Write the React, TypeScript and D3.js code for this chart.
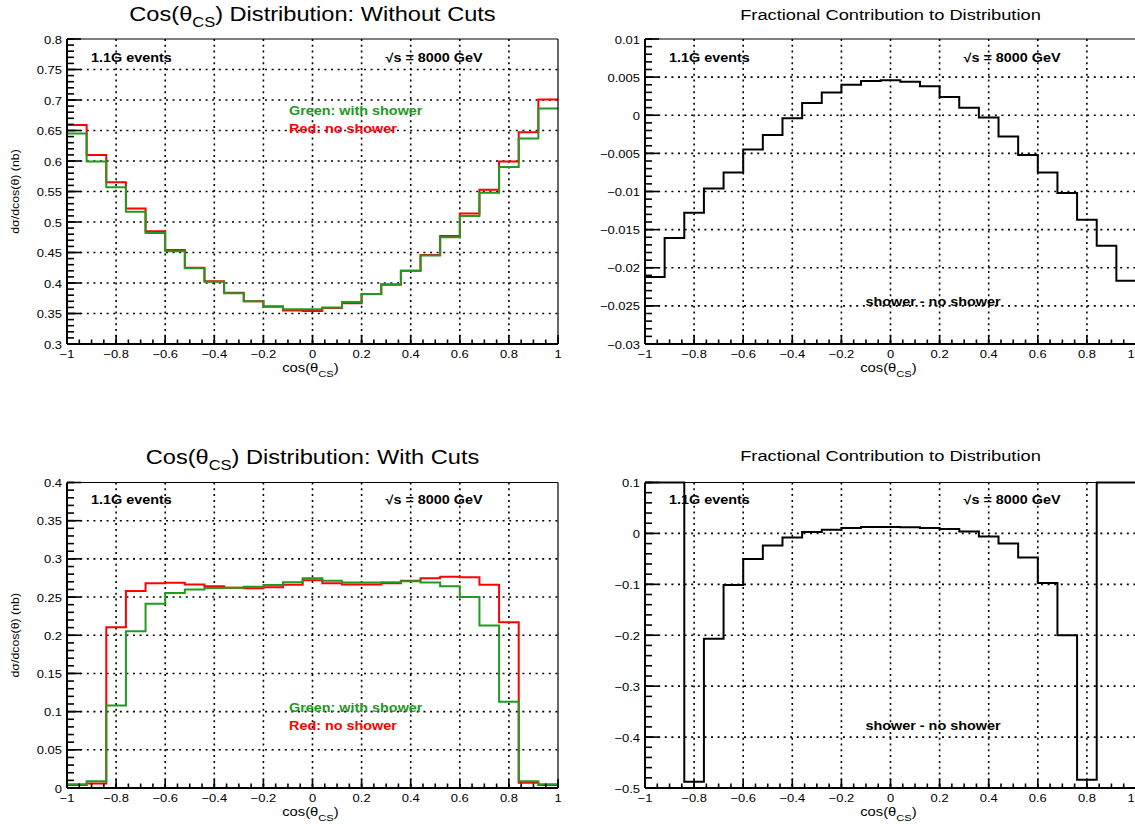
import React from "react";
import * as d3 from "d3";

// 25 bins over cos(theta_CS)
const binEdges = [-1, -0.92, -0.84, -0.76, -0.68, -0.6, -0.52, -0.44, -0.36, -0.28, -0.2, -0.12, -0.04,
  0.04, 0.12, 0.2, 0.28, 0.36, 0.44, 0.52, 0.6, 0.68, 0.76, 0.84, 0.92, 1];

// without cuts (nb)
const noCutsNoShower = [0.659, 0.61, 0.565, 0.522, 0.485, 0.454, 0.425, 0.403, 0.384, 0.37, 0.361, 0.355, 0.354,
  0.359, 0.367, 0.382, 0.397, 0.42, 0.446, 0.477, 0.514, 0.553, 0.599, 0.647, 0.701];
const noCutsShower = [0.645, 0.599, 0.557, 0.517, 0.482, 0.452, 0.424, 0.402, 0.383, 0.37, 0.362, 0.357, 0.357,
  0.36, 0.369, 0.382, 0.398, 0.42, 0.445, 0.475, 0.51, 0.548, 0.59, 0.637, 0.686];
const noCutsFraction = [-0.0212, -0.0161, -0.0128, -0.0096, -0.0075, -0.0045, -0.0026, -0.0004, 0.0016, 0.003,
  0.004, 0.0045, 0.0046, 0.0044, 0.0038, 0.0024, 0.001, -0.0003, -0.0028, -0.0052, -0.0075, -0.0102, -0.0137,
  -0.0171, -0.0217];

// with cuts (nb)
const cutsNoShower = [0.004, 0.006, 0.2105, 0.258, 0.268, 0.2688, 0.2666, 0.264, 0.2623, 0.2614, 0.2627, 0.2662,
  0.2719, 0.268, 0.2666, 0.2666, 0.268, 0.2715, 0.2745, 0.2767, 0.276, 0.2662, 0.2171, 0.007, 0.004];
const cutsShower = [0.005, 0.009, 0.108, 0.2053, 0.2412, 0.2553, 0.26, 0.2618, 0.2623, 0.2636, 0.2658, 0.2693,
  0.2745, 0.2715, 0.269, 0.269, 0.2693, 0.2706, 0.269, 0.264, 0.25, 0.2127, 0.113, 0.009, 0.005];
// first two and last two bins are off the top of the frame
const cutsFraction = [0.25, 0.5, -0.4876, -0.207, -0.1013, -0.05, -0.0236, -0.0079, 0.0026, 0.0072, 0.0105,
  0.0125, 0.0125, 0.012, 0.0105, 0.0085, 0.004, -0.006, -0.0197, -0.0473, -0.0973, -0.2, -0.484, 0.29, 0.25];

const xTicks = [-1, -0.8, -0.6, -0.4, -0.2, 0, 0.2, 0.4, 0.6, 0.8, 1];
const yTicksNoCuts = [0.3, 0.35, 0.4, 0.45, 0.5, 0.55, 0.6, 0.65, 0.7, 0.75, 0.8];
const yTicksNoCutsFrac = [-0.03, -0.025, -0.02, -0.015, -0.01, -0.005, 0, 0.005, 0.01];
const yTicksCuts = [0, 0.05, 0.1, 0.15, 0.2, 0.25, 0.3, 0.35, 0.4];
const yTicksCutsFrac = [-0.5, -0.4, -0.3, -0.2, -0.1, 0, 0.1];

const RED = "#ff0000";
const GREEN = "#229922";
const FONT = "'Liberation Sans', Arial, Helvetica, sans-serif";
const SX = 1.18; // the original canvas is a bit stretched sideways

const fmt = (v: number) => (v < 0 ? "\u2212" : "") + String(Math.abs(v));

const Label = ({ x, y, size, anchor = "start", bold = false, fill = "#000", rotate = 0, children }: any) => (
  <text
    transform={`translate(${x},${y}) rotate(${rotate}) scale(${SX},1)`}
    fontSize={size}
    textAnchor={anchor}
    fontWeight={bold ? "bold" : "normal"}
    fill={fill}
    fontFamily={FONT}
  >
    {children}
  </text>
);

type Note = { dx: number; dy: number; text: React.ReactNode; color?: string };

type PanelProps = {
  x0: number; x1: number; y0: number; y1: number;
  yTicks: number[]; yMinor: number;
  series: { values: number[]; color: string }[];
  title: React.ReactNode; titleSize: number; titleDy?: number;
  yTitle?: boolean;
  notes: Note[];
};

const minorTicks = (lo: number, hi: number, step: number) =>
  d3.range(Math.round(lo / step), Math.round(hi / step) + 1).map(k => +(k * step).toFixed(6));

const Panel = ({ x0, x1, y0, y1, yTicks, yMinor, series, title, titleSize, titleDy = -18.3, yTitle, notes }: PanelProps) => {
  const xScale = d3.scaleLinear().domain([-1, 1]).range([x0, x1]);
  const yDomain = d3.extent(yTicks) as [number, number];
  const yScale = d3.scaleLinear().domain(yDomain).range([y1, y0]).clamp(true);

  const line = d3.line<[number, number]>()
    .x(d => xScale(d[0]))
    .y(d => yScale(d[1]))
    .curve(d3.curveStepAfter);

  const cx = (x0 + x1) / 2;

  return (
    <g>
      {/* dotted grid */}
      {xTicks.slice(1, -1).map(t => (
        <line key={"gx" + t} x1={xScale(t)} x2={xScale(t)} y1={y0} y2={y1}
          stroke="#000" strokeWidth={1.6} strokeDasharray="2 3.8" />
      ))}
      {yTicks.slice(1, -1).map(t => (
        <line key={"gy" + t} x1={x0} x2={x1} y1={yScale(t)} y2={yScale(t)}
          stroke="#000" strokeWidth={1.6} strokeDasharray="2 4.6" />
      ))}

      {/* histograms */}
      {series.map((s, i) => (
        <path key={i}
          d={line(binEdges.map((e, k) => [e, s.values[Math.min(k, s.values.length - 1)]]) as [number, number][]) || ""}
          fill="none" stroke={s.color} strokeWidth={2} />
      ))}

      {/* frame */}
      <line x1={x0} x2={x1} y1={y0} y2={y0} stroke="#000" strokeWidth={1.2} />
      <line x1={x1} x2={x1} y1={y0} y2={y1} stroke="#000" strokeWidth={1.2} />
      <line x1={x0} x2={x0} y1={y0} y2={y1} stroke="#000" strokeWidth={2} />
      <line x1={x0} x2={x1} y1={y1} y2={y1} stroke="#000" strokeWidth={2} />

      {/* ticks */}
      {minorTicks(yDomain[0], yDomain[1], yMinor).map(t => (
        <line key={"my" + t} x1={x0} x2={x0 + 7} y1={yScale(t)} y2={yScale(t)} stroke="#000" strokeWidth={1.6} />
      ))}
      {yTicks.map(t => (
        <line key={"My" + t} x1={x0} x2={x0 + 14} y1={yScale(t)} y2={yScale(t)} stroke="#000" strokeWidth={1.6} />
      ))}
      {minorTicks(-1, 1, 0.05).map(t => (
        <line key={"mx" + t} x1={xScale(t)} x2={xScale(t)} y1={y1} y2={y1 - 4.5} stroke="#000" strokeWidth={1.6} />
      ))}
      {xTicks.map(t => (
        <line key={"Mx" + t} x1={xScale(t)} x2={xScale(t)} y1={y1} y2={y1 - 9} stroke="#000" strokeWidth={1.6} />
      ))}

      {/* tick labels */}
      {yTicks.map(t => (
        <Label key={"ly" + t} x={x0 - 5} y={yScale(t) + 4.5} size={11} anchor="end">{fmt(t)}</Label>
      ))}
      {xTicks.map(t => (
        <Label key={"lx" + t} x={Math.min(xScale(t), 1131)} y={y1 + 13.5} size={11} anchor="middle">{fmt(t)}</Label>
      ))}

      {/* titles */}
      <Label x={cx} y={y0 + titleDy} size={titleSize} anchor="middle">{title}</Label>
      <Label x={cx - 2} y={y1 + 28} size={12.5} anchor="middle">
        cos(θ<tspan dy={5} fontSize={9.5}>CS</tspan><tspan dy={-5}>)</tspan>
      </Label>
      {yTitle && (
        <Label x={19} y={(y0 + y1) / 2} size={10.5} anchor="middle" rotate={-90}>dσ/dcos(θ) (nb)</Label>
      )}

      {notes.map((n, i) => (
        <Label key={"n" + i} x={x0 + n.dx} y={y0 + n.dy} size={12.2} bold fill={n.color || "#000"}>{n.text}</Label>
      ))}
    </g>
  );
};

const App = () => {
  const L = { x0: 67, x1: 558 };
  const R = { x0: 645, x1: 1136 };
  const top = { y0: 39, y1: 344 };
  const bot = { y0: 482.5, y1: 788 };

  const header = (dy: number): Note[] => [
    { dx: 24, dy, text: "1.1G events" },
    { dx: 318.5, dy, text: "\u221As = 8000 GeV" },
  ];

  const fracTitle = "Fractional Contribution to Distribution";

  return (
    <svg width={1135} height={824} style={{ position: "absolute", left: 0, top: 0, background: "#fff" }}>
      <rect width={1135} height={824} fill="#fff" />
      <Panel {...L} {...top}
        yTicks={yTicksNoCuts} yMinor={0.01}
        series={[{ values: noCutsNoShower, color: RED }, { values: noCutsShower, color: GREEN }]}
        title={<>Cos(θ<tspan dy={6} fontSize={14}>CS</tspan><tspan dy={-6}>) Distribution: Without Cuts</tspan></>}
        titleSize={20} yTitle
        notes={[...header(22.5),
          { dx: 222, dy: 75.7, text: "Green: with shower", color: GREEN },
          { dx: 222, dy: 94, text: "Red: no shower", color: RED }]}
      />
      <Panel {...R} {...top}
        yTicks={yTicksNoCutsFrac} yMinor={0.001}
        series={[{ values: noCutsFraction, color: "#000" }]}
        title={fracTitle} titleSize={15.5} titleDy={-19}
        notes={[...header(22.5), { dx: 220.5, dy: 267, text: "shower - no shower" }]}
      />
      <Panel {...L} {...bot}
        yTicks={yTicksCuts} yMinor={0.01}
        series={[{ values: cutsNoShower, color: RED }, { values: cutsShower, color: GREEN }]}
        title={<>Cos(θ<tspan dy={6} fontSize={14}>CS</tspan><tspan dy={-6}>) Distribution: With Cuts</tspan></>}
        titleSize={20} yTitle
        notes={[...header(21),
          { dx: 222, dy: 229, text: "Green: with shower", color: GREEN },
          { dx: 222, dy: 247.5, text: "Red: no shower", color: RED }]}
      />
      <Panel {...R} {...bot}
        yTicks={yTicksCutsFrac} yMinor={0.02}
        series={[{ values: cutsFraction, color: "#000" }]}
        title={fracTitle} titleSize={15.5} titleDy={-21.5}
        notes={[...header(21), { dx: 220.5, dy: 247.5, text: "shower - no shower" }]}
      />
    </svg>
  );
};

export default App;
